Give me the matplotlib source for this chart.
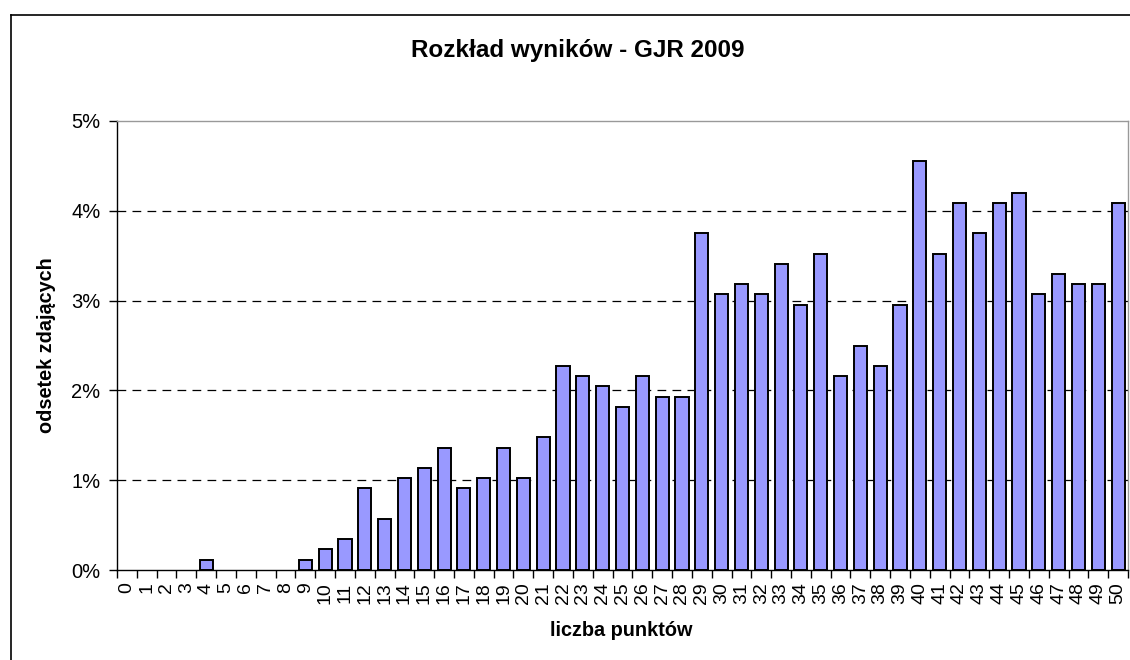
import matplotlib
matplotlib.use("Agg")
import matplotlib.pyplot as plt
from matplotlib.lines import Line2D
from matplotlib.ticker import FixedLocator, FuncFormatter

plt.rcParams['font.family'] = ['Liberation Sans', 'DejaVu Sans']

points = list(range(0, 51))
percent = [0, 0, 0, 0, 0.11, 0, 0, 0, 0, 0.11,
           0.23, 0.34, 0.91, 0.57, 1.02, 1.14, 1.36, 0.91, 1.02, 1.36,
           1.02, 1.48, 2.27, 2.16, 2.05, 1.82, 2.16, 1.93, 1.93, 3.75,
           3.07, 3.18, 3.07, 3.41, 2.95, 3.52, 2.16, 2.50, 2.27, 2.95,
           4.55, 3.52, 4.09, 3.75, 4.09, 4.20, 3.07, 3.30, 3.18, 3.18,
           4.09]
yticks = [0, 1, 2, 3, 4, 5]
title = "Rozkład wyników - GJR 2009"
xlabel = "liczba punktów"
ylabel = "odsetek zdających"

W, H = 1130, 660
fig = plt.figure(figsize=(W / 100, H / 100), dpi=100)
ax = fig.add_axes([117 / W, 1 - 570 / H, (1128 - 117) / W, (570 - 121) / H])

nz = [(p, v) for p, v in zip(points, percent) if v > 0]
ax.bar([p for p, _ in nz], [v for _, v in nz], width=0.66, color='#9999FF',
       edgecolor='black', linewidth=1.4, zorder=3)

ax.set_xlim(-0.5, 50.5)
ax.set_ylim(0, 5)

for y in yticks[1:-1]:
    ax.axhline(y, color='black', linestyle=(0, (7, 5)), linewidth=0.9, zorder=1)

ax.set_yticks(yticks)
ax.yaxis.set_major_formatter(FuncFormatter(lambda v, p: f"{int(round(v))}%"))
ax.set_xticks(points)
ax.set_xticklabels([str(p) for p in points], rotation=90)
ax.xaxis.set_minor_locator(FixedLocator([p - 0.5 for p in points] + [50.5]))
ax.tick_params(axis='x', which='major', length=0, pad=9, labelsize=14)
ax.tick_params(axis='x', which='minor', length=6, width=1, color='black', direction='out')
ax.tick_params(axis='y', length=6, width=1, direction='out', pad=6, labelsize=14.5)

ax.spines['left'].set_color('black')
ax.spines['bottom'].set_color('black')
ax.spines['top'].set_color('#999999')
ax.spines['right'].set_color('#999999')
for s in ax.spines.values():
    s.set_linewidth(1.0)

fig.text(578 / W, 1 - 50 / H, title, ha='center', va='center',
         fontsize=17.5, fontweight='bold')
fig.text(621 / W, 1 - 631 / H, xlabel, ha='center', va='center',
         fontsize=14.3, fontweight='bold')
fig.text(47 / W, 1 - 345 / H, ylabel, ha='center', va='center',
         fontsize=14.3, fontweight='bold', rotation=90)

# figure border (left and top visible)
fig.add_artist(Line2D([10.5 / W, 10.5 / W], [0, 1 - 14.5 / H], color='black', linewidth=1.2))
fig.add_artist(Line2D([10.5 / W, 1], [1 - 14.5 / H, 1 - 14.5 / H], color='black', linewidth=1.2))

fig.savefig("out.png", dpi=100)
